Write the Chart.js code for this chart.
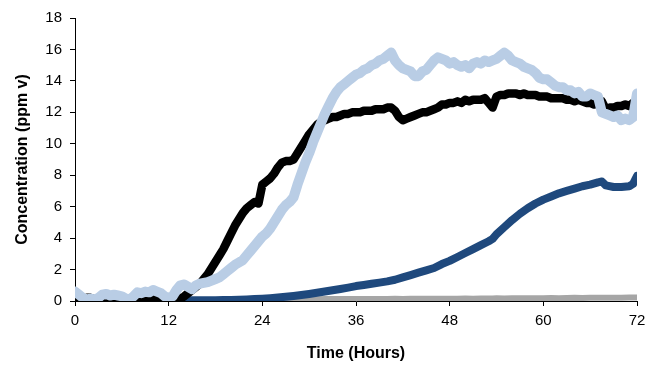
<!DOCTYPE html>
<html lang="en">
<head>
    <meta charset="UTF-8">
    <title>Concentration over time</title>
    <script src="https://cdn.jsdelivr.net/npm/chart.js@4.4.0/dist/chart.umd.min.js"></script>
    <style>
        html, body { margin: 0; padding: 0; background: #fff; }
        #wrap { width: 659px; height: 366px; }
    </style>
</head>
<body>
<div id="wrap"><canvas id="chart" width="659" height="366"></canvas></div>
<script>
    // --- Data ---
    const xTicks = [0, 12, 24, 36, 48, 60, 72];
    const yTicks = [0, 2, 4, 6, 8, 10, 12, 14, 16, 18];

    // half-hour sampling for the two noisy series
    const halfHours = [
        0, 0.5, 1, 1.5, 2, 2.5, 3, 3.5, 4, 4.5, 5, 5.5, 6, 6.5, 7, 7.5, 8, 8.5, 9, 9.5,
        10, 10.5, 11, 11.5, 12, 12.5, 13, 13.5, 14, 14.5, 15, 15.5, 16, 16.5, 17, 17.5, 18, 18.5, 19, 19.5,
        20, 20.5, 21, 21.5, 22, 22.5, 23, 23.5, 24, 24.5, 25, 25.5, 26, 26.5, 27, 27.5, 28, 28.5, 29, 29.5,
        30, 30.5, 31, 31.5, 32, 32.5, 33, 33.5, 34, 34.5, 35, 35.5, 36, 36.5, 37, 37.5, 38, 38.5, 39, 39.5,
        40, 40.5, 41, 41.5, 42, 42.5, 43, 43.5, 44, 44.5, 45, 45.5, 46, 46.5, 47, 47.5, 48, 48.5, 49, 49.5,
        50, 50.5, 51, 51.5, 52, 52.5, 53, 53.5, 54, 54.5, 55, 55.5, 56, 56.5, 57, 57.5, 58, 58.5, 59, 59.5,
        60, 60.5, 61, 61.5, 62, 62.5, 63, 63.5, 64, 64.5, 65, 65.5, 66, 66.5, 67, 67.5, 68, 68.5, 69, 69.5,
        70, 70.5, 71, 71.5, 72
    ];

    const lightBlueValues = [
        0.6, 0.4, 0.2, 0.1, 0.15, 0.1, 0.2, 0.4, 0.45, 0.35, 0.4, 0.35, 0.3, 0.15, 0.1, 0.3, 0.55, 0.5, 0.6, 0.55,
        0.7, 0.6, 0.5, 0.3, 0.2, 0.3, 0.7, 1.0, 1.05, 0.9, 0.75, 1.0, 1.1, 1.15, 1.2, 1.3, 1.4, 1.5, 1.7, 1.9,
        2.1, 2.3, 2.45, 2.6, 2.9, 3.2, 3.5, 3.8, 4.1, 4.3, 4.6, 5.0, 5.4, 5.8, 6.1, 6.3, 6.6, 7.4, 8.1, 8.8,
        9.4, 10.1, 10.7, 11.3, 11.9, 12.4, 12.9, 13.3, 13.6, 13.8, 14.0, 14.2, 14.4, 14.5, 14.7, 14.8, 15.0, 15.1, 15.3, 15.4,
        15.6, 15.8, 15.3, 15.0, 14.8, 14.7, 14.6, 14.3, 14.3, 14.6, 14.7, 15.0, 15.3, 15.5, 15.4, 15.3, 15.1, 15.2, 15.0, 14.9,
        15.0, 14.8, 15.1, 15.2, 15.1, 15.3, 15.2, 15.3, 15.4, 15.6, 15.8, 15.6, 15.3, 15.2, 15.1, 14.9, 14.8, 14.7, 14.5, 14.2,
        14.1, 14.1, 13.9, 13.7, 13.6, 13.6, 13.4, 13.4, 13.2, 13.3, 13.0, 13.0, 13.2, 13.1, 13.0, 12.0, 11.9, 11.8, 11.7, 11.8,
        11.5, 11.6, 11.5, 11.7, 13.2
    ];

    const blackValues = [
        0.15, 0.1, 0.05, 0.2, 0.2, 0.1, 0.05, 0.05, 0.1, 0.05, 0.1, 0.05, 0.05, 0.1, 0.05, 0.05, 0.1, 0.2, 0.1, 0.05,
        0.15, 0.3, 0.1, 0.05, 0.05, 0.0, 0.05, 0.15, 0.3, 0.5, 0.7, 0.9, 1.1, 1.4, 1.7, 2.1, 2.5, 2.9, 3.3, 3.8,
        4.3, 4.8, 5.2, 5.6, 5.9, 6.1, 6.3, 6.2, 7.4, 7.6, 7.8, 8.1, 8.5, 8.8, 8.9, 8.9, 9.0, 9.4, 9.8, 10.2,
        10.6, 10.9, 11.2, 11.4, 11.5, 11.6, 11.7, 11.7, 11.8, 11.9, 11.9, 12.0, 12.0, 12.0, 12.1, 12.1, 12.1, 12.2, 12.2, 12.2,
        12.3, 12.3, 12.1, 11.7, 11.5, 11.6, 11.7, 11.8, 11.9, 12.0, 12.0, 12.1, 12.2, 12.3, 12.5, 12.5, 12.6, 12.6, 12.7, 12.6,
        12.8, 12.7, 12.8, 12.8, 12.8, 12.9, 12.6, 12.3, 13.0, 13.1, 13.1, 13.2, 13.2, 13.2, 13.1, 13.2, 13.1, 13.1, 13.1, 13.0,
        13.0, 13.0, 12.9, 12.9, 12.9, 12.9, 12.8, 12.8, 12.7, 12.8, 12.7, 12.6, 12.6, 12.5, 12.6, 12.7, 12.2, 12.3, 12.3, 12.4,
        12.4, 12.5, 12.4, 12.6, 12.6
    ];

    // hourly sampling for the two smooth series
    const smoothHours = [
        13.5, 14, 15, 16, 17, 18, 19, 20, 21, 22, 23, 24, 25, 26, 27, 28, 29, 30, 31, 32,
        33, 34, 35, 36, 37, 38, 39, 40, 41, 42, 43, 44, 45, 46, 47, 48, 49, 50, 51, 52,
        53, 53.5, 54, 55, 56, 57, 58, 59, 60, 61, 62, 63, 64, 65, 66, 67, 67.5, 68, 69, 70,
        71, 71.5, 72
    ];

    const darkBlueValues = [
        0.05, 0.05, 0.05, 0.05, 0.05, 0.05, 0.06, 0.07, 0.08, 0.1, 0.12, 0.15, 0.18, 0.22, 0.27, 0.32, 0.38, 0.45, 0.52, 0.6,
        0.68, 0.76, 0.85, 0.95, 1.02, 1.1, 1.17, 1.25, 1.35, 1.5, 1.65, 1.8, 1.95, 2.1, 2.35, 2.55, 2.8, 3.05, 3.3, 3.55,
        3.8, 3.95, 4.25, 4.7, 5.15, 5.55, 5.9, 6.2, 6.45, 6.65, 6.85, 7.0, 7.15, 7.3, 7.4, 7.55, 7.6, 7.35, 7.25, 7.25,
        7.3, 7.45, 7.95
    ];

    const greyValues = [
        0.05, 0.05, 0.05, 0.06, 0.06, 0.07, 0.07, 0.08, 0.08, 0.08, 0.09, 0.09, 0.1, 0.1, 0.1, 0.1, 0.11, 0.11, 0.11, 0.12,
        0.12, 0.12, 0.12, 0.13, 0.13, 0.12, 0.13, 0.13, 0.14, 0.13, 0.14, 0.14, 0.15, 0.14, 0.15, 0.15, 0.15, 0.16, 0.15, 0.16,
        0.16, 0.16, 0.17, 0.16, 0.17, 0.18, 0.17, 0.18, 0.18, 0.19, 0.18, 0.19, 0.2, 0.19, 0.2, 0.2, 0.2, 0.21, 0.2, 0.21,
        0.22, 0.22, 0.23
    ];

    function toPoints(xs, ys) {
        return xs.map((x, i) => ({ x: x, y: ys[i] }));
    }

    // --- Chart ---
    const FONT = "'Liberation Sans', Arial, sans-serif";
    const AXIS = '#000';

    // first dataset is drawn on top
    new Chart(document.getElementById('chart'), {
        type: 'line',
        data: {
            datasets: [
                { label: 'A', data: toPoints(halfHours, lightBlueValues), borderColor: '#b9cde5', borderWidth: 10 },
                { label: 'B', data: toPoints(halfHours, blackValues), borderColor: '#000000', borderWidth: 8.5 },
                { label: 'C', data: toPoints(smoothHours, darkBlueValues), borderColor: '#1f497d', borderWidth: 8 },
                { label: 'D', data: toPoints(smoothHours, greyValues), borderColor: '#a6a6a6', borderWidth: 6 }
            ]
        },
        options: {
            responsive: false,
            animation: false,
            events: [],
            layout: { padding: { top: 18, right: 22, bottom: 0, left: 0 } },
            elements: {
                point: { radius: 0 },
                line: { tension: 0, borderCapStyle: 'round', borderJoinStyle: 'round', fill: false }
            },
            plugins: { legend: { display: false }, tooltip: { enabled: false } },
            scales: {
                x: {
                    type: 'linear',
                    min: 0,
                    max: 72,
                    afterBuildTicks: s => { s.ticks = xTicks.map(v => ({ value: v })); },
                    afterFit: s => { s.height = 65; },
                    border: { display: true, color: AXIS, width: 1 },
                    grid: { drawOnChartArea: false, drawTicks: true, tickLength: 5, color: AXIS },
                    ticks: { color: '#000', font: { family: FONT, size: 15 }, padding: 6, maxRotation: 0 },
                    title: {
                        display: true, text: 'Time (Hours)', color: '#000',
                        font: { family: FONT, size: 16, weight: 'bold' },
                        padding: { top: 0, bottom: 3 }
                    }
                },
                y: {
                    min: 0,
                    max: 18,
                    afterBuildTicks: s => { s.ticks = yTicks.map(v => ({ value: v })); },
                    afterFit: s => { s.width = 75; },
                    border: { display: true, color: AXIS, width: 1 },
                    grid: { drawOnChartArea: false, drawTicks: true, tickLength: 5, color: AXIS },
                    ticks: { color: '#000', font: { family: FONT, size: 15 }, padding: 8 },
                    title: {
                        display: true, text: 'Concentration (ppm v)', color: '#000',
                        font: { family: FONT, size: 16, weight: 'bold' },
                        padding: { top: 13, bottom: 0 }
                    }
                }
            }
        }
    });
</script>
</body>
</html>
